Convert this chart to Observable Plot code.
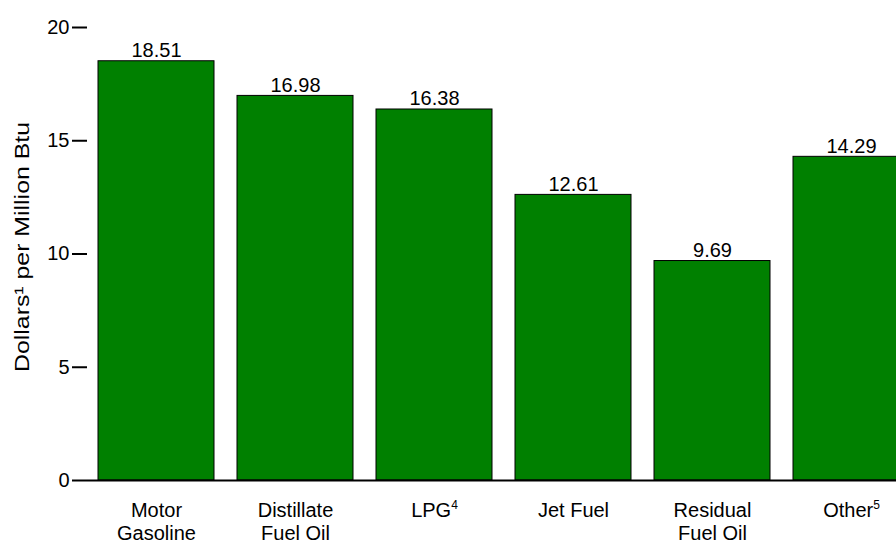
<!DOCTYPE html>
<html>
<head>
<meta charset="utf-8">
<script src="https://cdn.jsdelivr.net/npm/d3@7"></script>
<script src="https://cdn.jsdelivr.net/npm/@observablehq/plot@0.6"></script>
<style>
  html, body { margin: 0; padding: 0; background: #fff; overflow: hidden; width: 896px; height: 543px; }
  #wrap { position: relative; width: 896px; height: 543px; overflow: hidden; }
  #title { position: absolute; left: -24px; top: -16px; font: bold 17px "Liberation Sans", Arial, sans-serif; white-space: nowrap; color: #000; }
  #chart { position: absolute; left: 0; top: 0; width: 920px; }
  #chart svg { max-width: none !important; }
</style>
</head>
<body>
<div id="wrap">
  <div id="title">by Industrial Sector and Fuel Source, 2008</div>
  <div id="chart"></div>
</div>
<script>
const categories = ["Motor\nGasoline", "Distillate\nFuel Oil", "LPG⁴", "Jet Fuel", "Residual\nFuel Oil", "Other⁵"];
const values = [18.51, 16.98, 16.38, 12.61, 9.69, 14.29];
const yTicks = [0, 5, 10, 15, 20];
const yLabel = "Dollars¹ per Million Btu";

const data = categories.map((c, i) => ({category: c, value: values[i]}));

const chart = Plot.plot({
  width: 920,
  height: 543,
  marginLeft: 87,
  marginRight: 0,
  marginTop: 27,
  marginBottom: 63,
  style: {fontFamily: '"Liberation Sans", Arial, sans-serif', fontSize: "20px", color: "#000", background: "#fff", maxWidth: "none"},
  x: {domain: categories, paddingInner: 0.163, paddingOuter: 0.077, label: null},
  y: {domain: [0, 20], label: null},
  marks: [
    Plot.barY(data, {x: "category", y: "value", fill: "#008000", stroke: "#000", strokeWidth: 1}),
    Plot.ruleY([0], {stroke: "#000", strokeWidth: 2}),
    Plot.text(data, {x: "category", y: "value", text: d => d.value.toFixed(2), lineAnchor: "bottom", dy: -4, fill: "#000", fontSize: 20}),
    Plot.axisX({tickSize: 0, tickPadding: 21, lineHeight: 1.12, fontSize: 20, label: null}),
    Plot.axisY({ticks: yTicks, tickSize: 15, tickPadding: 3, strokeWidth: 2, fontSize: 20, label: yLabel, labelAnchor: "center", labelOffset: 73, labelArrow: "none"})
  ]
});
chart.style.maxWidth = "none";
chart.style.width = "920px";
chart.style.height = "543px";
document.getElementById("chart").appendChild(chart);

// render footnote markers as raised small digits
const sup = {"⁴": "4", "⁵": "5"};
d3.select(chart).selectAll("text").each(function() {
  const t = this.textContent;
  const last = t.slice(-1);
  if (sup[last] && this.children.length === 0) {
    const el = d3.select(this);
    el.text(t.slice(0, -1));
    el.append("tspan").attr("font-size", 12).attr("dy", "-0.7em").text(sup[last]);
  }
});

// y-axis title is drawn a little longer in the reference
d3.select(chart).selectAll("text").filter(function() { return this.textContent === yLabel; })
  .attr("font-size", 21).attr("textLength", 250).attr("lengthAdjust", "spacingAndGlyphs").attr("dx", "7");
</script>
</body>
</html>
